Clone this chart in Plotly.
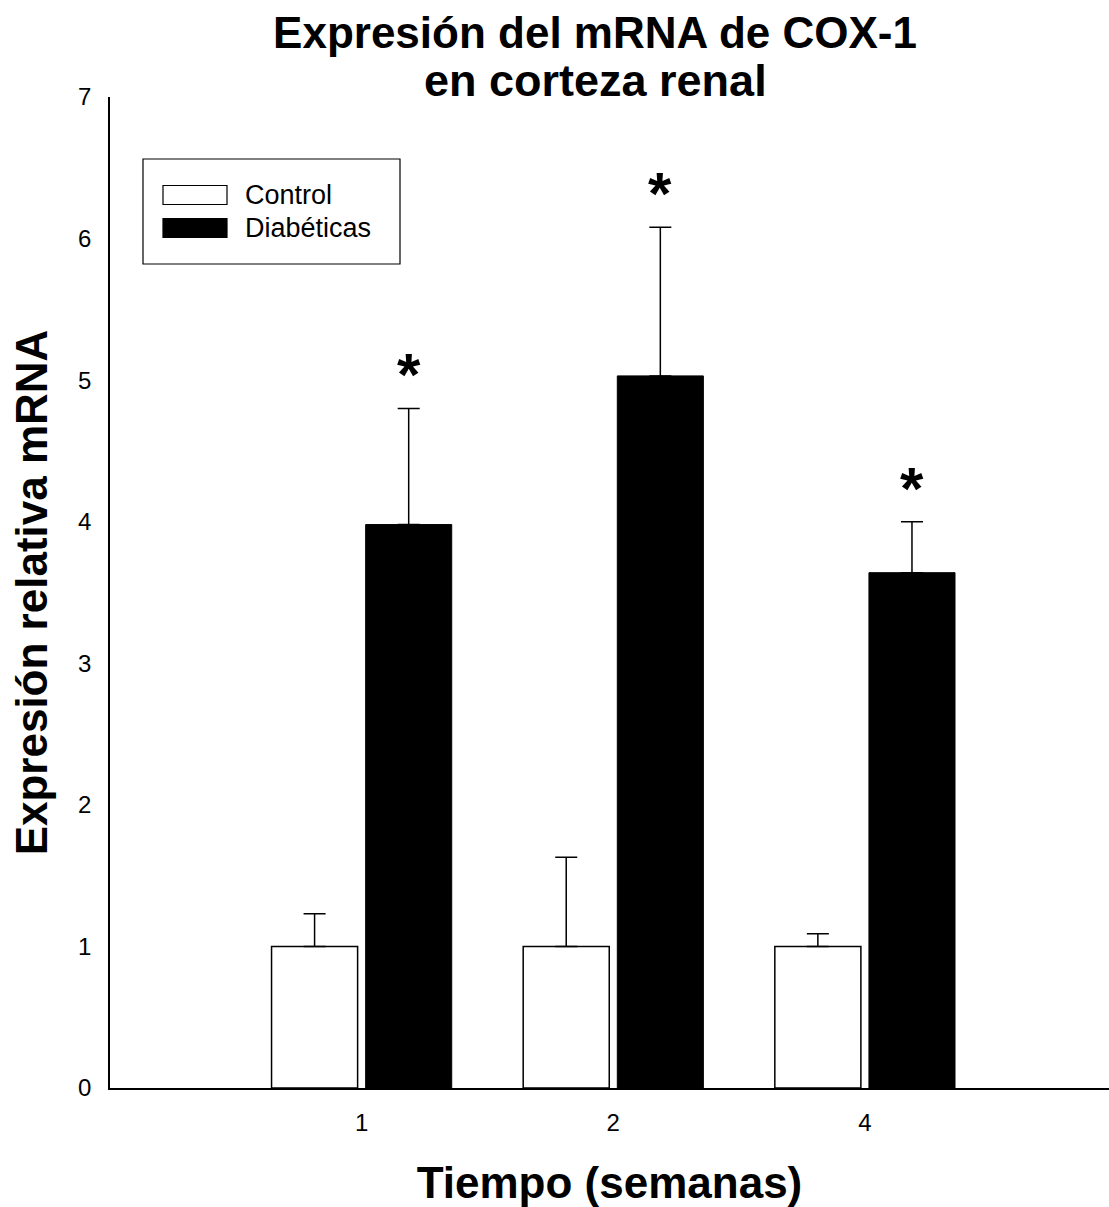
import plotly.graph_objects as go

weeks = ["1", "2", "4"]
control = [1.0, 1.0, 1.0]
control_err = [0.23, 0.63, 0.09]
diabeticas = [3.98, 5.03, 3.64]
diabeticas_err = [0.82, 1.05, 0.36]
significant = [True, True, True]
title_lines = ["Expresión del mRNA de COX-1", "en corteza renal"]

idx = list(range(len(weeks)))
bar_w = 0.342
gap = 0.032
FONT = "Liberation Sans, Arial"

fig = go.Figure()
fig.add_trace(go.Bar(
    x=idx, y=control, name="Control", width=bar_w, offset=-bar_w - gap / 2,
    marker=dict(color="white", line=dict(color="black", width=1.5)),
    error_y=dict(type="data", array=control_err, arrayminus=[0] * 3, symmetric=False,
                 color="black", thickness=1.5, width=11),
    showlegend=False,
))
fig.add_trace(go.Bar(
    x=idx, y=diabeticas, name="Diabéticas", width=bar_w, offset=gap / 2,
    marker=dict(color="black", line=dict(color="black", width=1)),
    error_y=dict(type="data", array=diabeticas_err, arrayminus=[0] * 3, symmetric=False,
                 color="black", thickness=1.5, width=11),
    showlegend=False,
))

annotations = []
for i, (v, e, s) in enumerate(zip(diabeticas, diabeticas_err, significant)):
    if s:
        annotations.append(dict(
            x=i + gap / 2 + bar_w / 2, y=v + e, xref="x", yref="y",
            text="<b>*</b>", showarrow=False, yanchor="bottom", yshift=-2,
            font=dict(family=FONT, size=60, color="black"),
        ))

# second title line
annotations.append(dict(x=(595 - 110) / 999, y=1 + (97 - 80) / 991, xref="paper", yref="paper",
                        text="<b>" + title_lines[1] + "</b>", showarrow=False,
                        xanchor="center", yanchor="middle",
                        font=dict(family=FONT, size=45, color="black")))

# manual legend (large swatches like the original)
shapes = [
    dict(type="rect", xref="paper", yref="paper", x0=33 / 999, x1=290 / 999,
         y0=1 - 264 / 991 + 97 / 991, y1=1 - 159 / 991 + 97 / 991,
         line=dict(color="black", width=1.2), fillcolor="white"),
]
leg_items = [("Control", "white", 195), ("Diabéticas", "black", 228)]
for name, col, yc in leg_items:
    yp = 1 - (yc - 97) / 991
    shapes.append(dict(type="rect", xref="paper", yref="paper",
                       x0=53 / 999, x1=117 / 999, y0=yp - 9.5 / 991, y1=yp + 9.5 / 991,
                       line=dict(color="black", width=1.2), fillcolor=col))
    annotations.append(dict(x=133 / 999, y=yp, xref="paper", yref="paper", text=name,
                            showarrow=False, xanchor="left", yanchor="middle",
                            font=dict(family=FONT, size=27, color="black")))

fig.update_layout(
    width=1109, height=1207,
    margin=dict(l=110, r=0, t=97, b=119),
    plot_bgcolor="white", paper_bgcolor="white",
    barmode="overlay",
    title=dict(text="<b>" + title_lines[0] + "</b>",
               x=595 / 1109, xref="container", xanchor="center",
               y=1 - 17 / 1207, yref="container", yanchor="top",
               font=dict(family=FONT, size=44, color="black")),
    xaxis=dict(range=[-1.0, 2.97], tickmode="array", tickvals=idx, ticktext=weeks,
               showline=True, linecolor="black", linewidth=1.5, showgrid=False, zeroline=False,
               ticks="", ticklabelstandoff=12,
               tickfont=dict(family=FONT, size=24, color="black"),
               title=dict(text="<b>Tiempo (semanas)</b>", standoff=34,
                          font=dict(family=FONT, size=44, color="black"))),
    yaxis=dict(range=[0, 7], tickvals=list(range(8)),
               showline=True, linecolor="black", linewidth=1.5, showgrid=False, zeroline=False,
               ticks="", ticklabelstandoff=12,
               tickfont=dict(family=FONT, size=24, color="black"),
               title=dict(text="<b>Expresión relativa mRNA</b>", standoff=17,
                          font=dict(family=FONT, size=44, color="black"))),
    annotations=annotations,
    shapes=shapes,
    font=dict(family=FONT, color="black"),
)

fig.write_html("out.html")
